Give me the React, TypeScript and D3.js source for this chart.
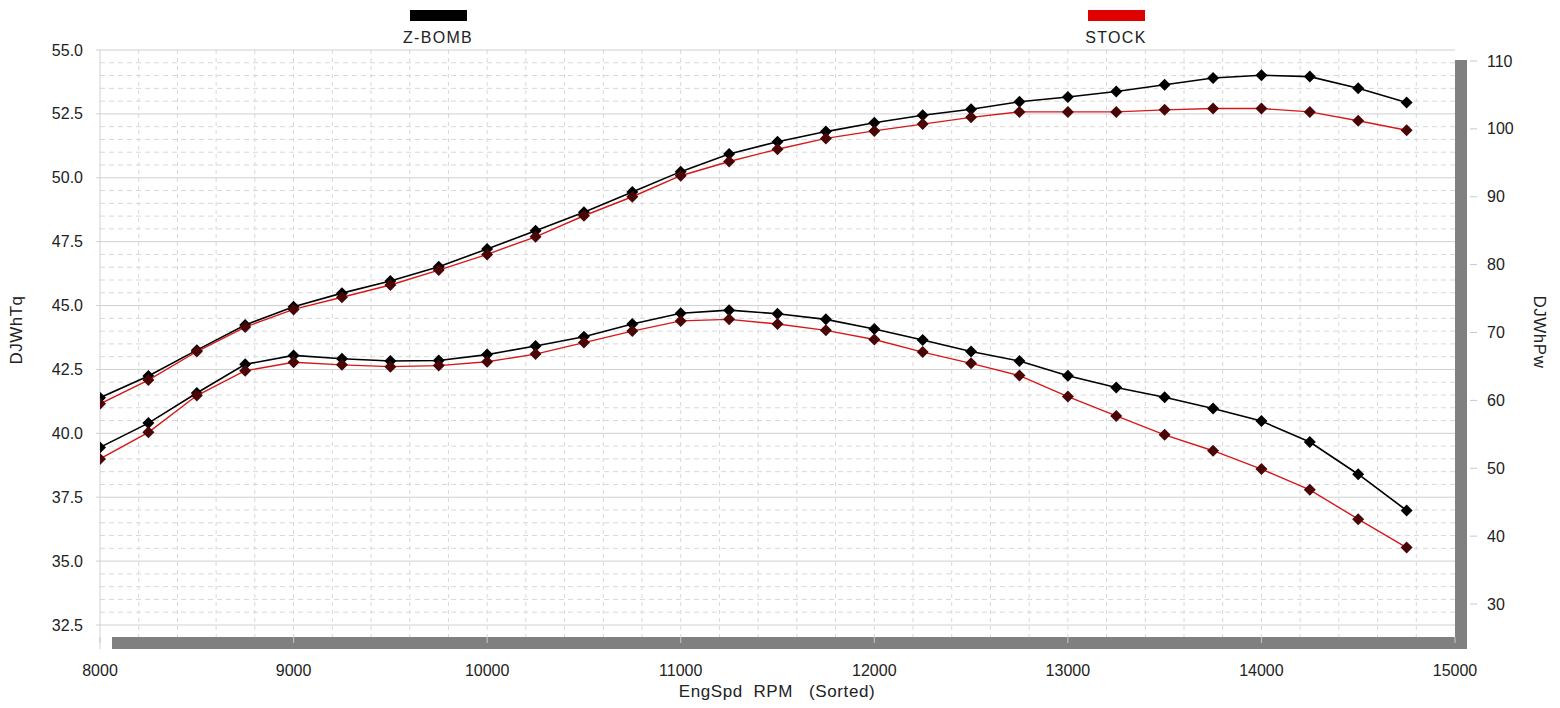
import React from "react";
import * as d3 from "d3";

// engine speed of each logged point
const rpm = [8000, 8250, 8500, 8750, 9000, 9250, 9500, 9750, 10000, 10250, 10500, 10750, 11000, 11250,
             11500, 11750, 12000, 12250, 12500, 12750, 13000, 13250, 13500, 13750, 14000, 14250, 14500, 14750];

// torque (left axis)
const torqueZBomb = [39.45, 40.4, 41.58, 42.7, 43.05, 42.92, 42.83, 42.85, 43.08, 43.42, 43.78, 44.28, 44.7, 44.82,
                     44.68, 44.46, 44.08, 43.65, 43.2, 42.83, 42.25, 41.79, 41.41, 40.97, 40.48, 39.66, 38.4, 36.98];
const torqueStock = [39.0, 40.04, 41.48, 42.45, 42.78, 42.68, 42.61, 42.65, 42.8, 43.1, 43.55, 44.0, 44.4, 44.46,
                     44.28, 44.03, 43.67, 43.18, 42.74, 42.26, 41.44, 40.68, 39.94, 39.32, 38.6, 37.79, 36.64, 35.53];

// power (right axis)
const powerZBomb = [60.4, 63.6, 67.4, 71.1, 73.8, 75.8, 77.6, 79.7, 82.3, 85.0, 87.7, 90.7, 93.7, 96.3,
                    98.1, 99.6, 100.9, 102.0, 102.9, 104.0, 104.7, 105.5, 106.5, 107.5, 107.9, 107.7, 106.0, 103.9];
const powerStock = [59.5, 63.0, 67.2, 70.8, 73.4, 75.2, 77.0, 79.2, 81.5, 84.1, 87.2, 90.0, 93.1, 95.2,
                    97.0, 98.6, 99.7, 100.7, 101.7, 102.5, 102.5, 102.5, 102.8, 103.0, 103.0, 102.5, 101.2, 99.8];

const xTicks = [8000, 9000, 10000, 11000, 12000, 13000, 14000, 15000];
const leftTicks = [32.5, 35.0, 37.5, 40.0, 42.5, 45.0, 47.5, 50.0, 52.5, 55.0];
const rightTicks = [30, 40, 50, 60, 70, 80, 90, 100, 110];

export default function App() {
    const width = 1560;
    const height = 708;
    const left = 100;
    const right = 1455;
    const top = 50;
    const bottom = 637;
    const font = "'Liberation Sans', Arial, sans-serif";

    const svgRef = React.useRef(null);

    React.useEffect(() => {
        const svg = d3.select(svgRef.current);
        svg.selectAll("*").remove();

        const x = d3.scaleLinear().domain([8000, 15000]).range([left, right]);
        const yL = d3.scaleLinear().domain([32.5, 55]).range([625, 50]);
        const yR = d3.scaleLinear().domain([30, 110]).range([604, 61]);

        svg.append("defs").append("clipPath").attr("id", "plotClip")
            .append("rect").attr("x", left).attr("y", top)
            .attr("width", right - left).attr("height", bottom - top);

        //Grid: dashed minor lines, solid majors.
        const grid = svg.append("g");
        for (let v = 8200; v < 15000; v += 200) {
            grid.append("line")
                .attr("x1", x(v)).attr("x2", x(v)).attr("y1", top).attr("y2", bottom)
                .style("stroke", "#d8d8d8").style("stroke-dasharray", "4,4");
        }
        for (let v = 33; v < 55; v += 0.5) {
            if (Math.abs(v / 2.5 - Math.round(v / 2.5)) < 1e-6) continue;
            grid.append("line")
                .attr("x1", left).attr("x2", right).attr("y1", yL(v)).attr("y2", yL(v))
                .style("stroke", "#d8d8d8").style("stroke-dasharray", "5,4");
        }
        for (const v of leftTicks) {
            grid.append("line")
                .attr("x1", left - 4).attr("x2", right).attr("y1", yL(v)).attr("y2", yL(v))
                .style("stroke", "#d0d0d0");
        }
        grid.append("line").attr("x1", left).attr("x2", left).attr("y1", top).attr("y2", bottom + 12)
            .style("stroke", "#d0d0d0");

        //Shadow bars of the frame.
        svg.append("rect").attr("x", left + 12).attr("y", bottom).attr("width", right - left)
            .attr("height", 12).style("fill", "#808080");
        svg.append("rect").attr("x", right).attr("y", top + 10).attr("width", 12)
            .attr("height", bottom - top + 2).style("fill", "#808080");
        for (const v of xTicks) {
            svg.append("line").attr("x1", x(v)).attr("x2", x(v)).attr("y1", bottom).attr("y2", bottom + 6)
                .style("stroke", "#c8c8c8");
        }
        for (const v of rightTicks) {
            svg.append("line").attr("x1", right + 15).attr("x2", right + 22).attr("y1", yR(v)).attr("y2", yR(v))
                .style("stroke", "#c8c8c8");
        }

        //Tick labels.
        svg.append("g").selectAll("text").data(xTicks).enter().append("text")
            .attr("x", d => x(d)).attr("y", 676)
            .attr("text-anchor", "middle")
            .style("font", `16px ${font}`).style("fill", "#222")
            .text(d => d);
        svg.append("g").selectAll("text").data(leftTicks).enter().append("text")
            .attr("x", 83).attr("y", d => yL(d) + 5.5)
            .attr("text-anchor", "end")
            .style("font", `16px ${font}`).style("fill", "#222")
            .text(d => d3.format(".1f")(d));
        svg.append("g").selectAll("text").data(rightTicks).enter().append("text")
            .attr("x", 1487).attr("y", d => yR(d) + 5.5)
            .style("font", `16px ${font}`).style("fill", "#222")
            .text(d => d);

        //Axis titles.
        svg.append("text").attr("transform", "translate(22, 330) rotate(-90)")
            .attr("text-anchor", "middle").style("font", `17px ${font}`).style("fill", "#222")
            .style("letter-spacing", "0.5px")
            .text("DJWhTq");
        svg.append("text").attr("transform", "translate(1534, 332) rotate(90)")
            .attr("text-anchor", "middle").style("font", `17px ${font}`).style("fill", "#222")
            .style("letter-spacing", "0.5px")
            .text("DJWhPw");
        svg.append("text").attr("x", 777).attr("y", 697)
            .attr("text-anchor", "middle").style("font", `17px ${font}`).style("fill", "#222")
            .style("white-space", "pre").style("letter-spacing", "0.6px")
            .text("EngSpd  RPM   (Sorted)");

        //Legend.
        const legend = [
            {name: "Z-BOMB", color: "#000000", cx: 438},
            {name: "STOCK", color: "#e00000", cx: 1116}
        ];
        for (const item of legend) {
            svg.append("rect").attr("x", item.cx - 28).attr("y", 10).attr("width", 57).attr("height", 11)
                .style("fill", item.color);
            svg.append("text").attr("x", item.cx).attr("y", 43).attr("text-anchor", "middle")
                .style("font", `16px ${font}`).style("letter-spacing", "1.3px").style("fill", "#222")
                .text(item.name);
        }

        //Curves.
        const plot = svg.append("g").attr("clip-path", "url(#plotClip)");
        const series = [
            {values: torqueZBomb, scale: yL, line: "#000000", marker: "#000000", width: 1.6},
            {values: powerZBomb,  scale: yR, line: "#000000", marker: "#000000", width: 1.6},
            {values: torqueStock, scale: yL, line: "#d81818", marker: "#4a0606", width: 1.4},
            {values: powerStock,  scale: yR, line: "#d81818", marker: "#4a0606", width: 1.4}
        ];
        const diamond = "M0,-6L6,0L0,6L-6,0Z";
        for (const s of series) {
            const data = rpm.map((r, i) => ({x: r, y: s.values[i]}));
            const line = d3.line().x(d => x(d.x)).y(d => s.scale(d.y));
            plot.append("path").datum(data).attr("d", line)
                .style("fill", "none").style("stroke", s.line).style("stroke-width", s.width);
            plot.selectAll(null).data(data).enter().append("path")
                .attr("d", diamond)
                .attr("transform", d => `translate(${x(d.x)},${s.scale(d.y)})`)
                .style("fill", s.marker);
        }
    }, []);

    return (
        <svg ref={svgRef} width={width} height={height}
             style={{position: "absolute", left: 0, top: 0, background: "#fff"}}></svg>
    );
}
